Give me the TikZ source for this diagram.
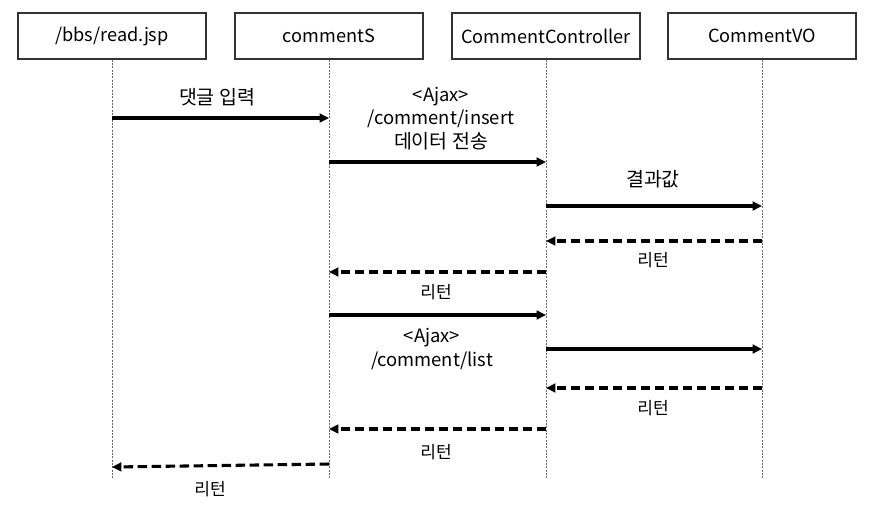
\documentclass[tikz,border=0pt]{standalone}
\usepackage{fontspec}
\setmainfont{Noto Sans CJK KR}
\usetikzlibrary{arrows.meta}
\begin{document}
\begin{tikzpicture}[x=0.75pt,y=-0.75pt,
  actor/.style={draw=black!80,line width=1pt,minimum width=141pt,minimum height=34.5pt,inner sep=0pt,font=\fontsize{13.6}{15}\selectfont},
  life/.style={draw=black!60,line width=0.5pt,dash pattern=on 1.5pt off 1pt},
  msg/.style={line width=2.3pt,-{Triangle[length=7pt,width=6.5pt]}},
  ret/.style={msg,dash pattern=on 7pt off 3.5pt},
  lbl/.style={font=\fontsize{13.8}{16.5}\selectfont,inner sep=0pt},
  hlbl/.style={font=\fontsize{14.6}{16.5}\selectfont,inner sep=0pt},
  small/.style={font=\fontsize{12.8}{14}\selectfont,inner sep=0pt}]
\useasboundingbox (0,0) rectangle (877,515);
\node[actor] (b1) at (112,36) {/bbs/read.jsp};
\node[actor] (b2) at (329,36) {commentS};
\node[actor] (b3) at (546,36) {CommentController};
\node[actor] (b4) at (762,36) {CommentVO};
\coordinate (end) at (0,478);
\foreach \b in {b1,b2,b3,b4} \draw[life] (\b.south) -- (\b.south |- end);
% message rows
\coordinate (m1) at (0,118);
\coordinate (m2) at (0,162);
\coordinate (m3) at (0,206);
\coordinate (m4) at (0,241);
\coordinate (m5) at (0,272);
\coordinate (m6) at (0,315);
\coordinate (m7) at (0,349);
\coordinate (m8) at (0,388);
\coordinate (m9) at (0,429);
\coordinate (m10a) at (0,464);
\coordinate (m10b) at (0,467);
\draw[msg] (b1 |- m1) -- (b2 |- m1);
\draw[msg] (b2 |- m2) -- (b3 |- m2);
\draw[msg] (b3 |- m3) -- (b4 |- m3);
\draw[ret] (b4 |- m4) -- (b3 |- m4);
\draw[ret] (b3 |- m5) -- (b2 |- m5);
\draw[msg] (b2 |- m6) -- (b3 |- m6);
\draw[msg] (b3 |- m7) -- (b4 |- m7);
\draw[ret] (b4 |- m8) -- (b3 |- m8);
\draw[ret] (b3 |- m9) -- (b2 |- m9);
\draw[ret] (b2 |- m10a) -- (b1 |- m10b);
% labels
\node[hlbl] (t1) at (217,97) {댓글 입력};
\node[lbl] (t2a) at (441,97) {<Ajax>};
\node[lbl] (t2b) at (441,119) {/comment/insert};
\node[hlbl] (t2c) at (441,141) {데이터 전송};
\node[hlbl] (t3) at (653,179) {결과값};
\node[small] (t4) at (653,260) {리턴};
\node[small] (t5) at (436,292) {리턴};
\node[lbl] (t6a) at (432,338) {<Ajax>};
\node[lbl] (t6b) at (432,361) {/comment/list};
\node[small] (t7) at (653,408) {리턴};
\node[small] (t8) at (436,452) {리턴};
\node[small] (t9) at (210,489) {리턴};
\end{tikzpicture}
\end{document}
